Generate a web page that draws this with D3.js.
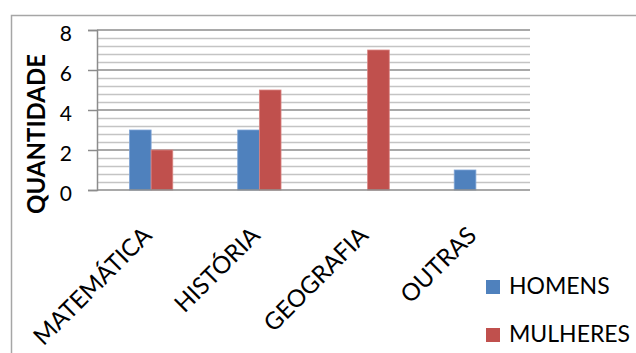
<!DOCTYPE html>
<html>
<head>
<meta charset="utf-8">
<script src="https://cdn.jsdelivr.net/npm/d3@7"></script>
<style>
  html, body { margin: 0; padding: 0; background: #fff; }
  svg { display: block; }
  text { font-family: Lato, "Open Sans", sans-serif; fill: #000; }
</style>
</head>
<body>
<svg id="chart" width="636" height="353"></svg>
<script>
const categories = ["MATEMÁTICA", "HISTÓRIA", "GEOGRAFIA", "OUTRAS"];
const seriesNames = ["HOMENS", "MULHERES"];
const homens = [3, 3, 0, 1];
const mulheres = [2, 5, 7, 0];
const yTicks = [0, 2, 4, 6, 8];
const yTitle = "QUANTIDADE";
const colors = ["#4F81BD", "#C0504D"];

const svg = d3.select("#chart");
const W = 636, H = 353;
const plot = { left: 97, right: 530, top: 30, bottom: 190 };

// outer border (chart area)
svg.append("rect")
  .attr("x", 11.5).attr("y", 15.5)
  .attr("width", W + 10).attr("height", H + 10)
  .attr("fill", "#fff").attr("stroke", "#a6a6a6").attr("stroke-width", 1.5);

const x0 = d3.scaleBand().domain(categories)
  .range([plot.left, plot.right]).paddingInner(0.6).paddingOuter(0.3);
const x1 = d3.scaleBand().domain(seriesNames).range([0, x0.bandwidth()]);
const y = d3.scaleLinear().domain([0, 8]).range([plot.bottom, plot.top]);

// minor gridlines every 0.4
const minor = d3.range(0, 8.0001, 0.4).filter(v => Math.abs(v / 2 - Math.round(v / 2)) > 1e-6);
svg.append("g").selectAll("line").data(minor).join("line")
  .attr("x1", plot.left).attr("x2", plot.right)
  .attr("y1", d => Math.round(y(d)) + 0.5).attr("y2", d => Math.round(y(d)) + 0.5)
  .attr("stroke", "#c4c4c4").attr("stroke-width", 1.5);

// major gridlines + ticks via axis
const yAxis = d3.axisLeft(y).tickValues(yTicks).tickSize(9).tickPadding(16).tickFormat(d3.format("d"));
const gy = svg.append("g").attr("transform", `translate(${plot.left},0)`).call(yAxis);
gy.select(".domain").attr("stroke", "#8c8c8c").attr("stroke-width", 1.5);
gy.selectAll(".tick line").attr("stroke", "#8c8c8c").attr("stroke-width", 1.5);
gy.selectAll(".tick text").attr("font-size", 21).attr("dy", "0.5em")
  .style("font-family", "Lato, sans-serif");
svg.append("g").selectAll("line").data(yTicks.filter(d => d > 0)).join("line")
  .attr("x1", plot.left).attr("x2", plot.right)
  .attr("y1", d => y(d)).attr("y2", d => y(d))
  .attr("stroke", "#8c8c8c").attr("stroke-width", 1.5);

// bars
const data = categories.map((c, i) => ({ cat: c, vals: [homens[i], mulheres[i]] }));
const groups = svg.append("g").selectAll("g").data(data).join("g")
  .attr("transform", d => `translate(${x0(d.cat)},0)`);
groups.selectAll("rect").data(d => d.vals.map((v, j) => ({ v, j })).filter(e => e.v > 0)).join("rect")
  .attr("x", e => x1(seriesNames[e.j]))
  .attr("y", e => y(e.v))
  .attr("width", x1.bandwidth())
  .attr("height", e => y(0) - y(e.v))
  .attr("fill", e => colors[e.j])
  .attr("stroke", e => e.j === 0 ? "#7ea4d6" : "#d98583").attr("stroke-width", 0.8);

// x axis line
svg.append("line").attr("x1", plot.left).attr("x2", plot.right)
  .attr("y1", y(0)).attr("y2", y(0)).attr("stroke", "#8c8c8c").attr("stroke-width", 1.5);

// x labels
svg.append("g").selectAll("text").data(categories).join("text")
  .attr("transform", d => `translate(${x0(d) + x0.bandwidth() / 2 + 2},237) rotate(-45)`)
  .attr("text-anchor", "end")
  .attr("font-size", 24)
  .text(d => d);

// y title
svg.append("text")
  .attr("transform", `translate(45,134) rotate(-90)`)
  .attr("text-anchor", "middle")
  .attr("font-size", 24).attr("font-weight", "bold")
  .text(yTitle);

// legend
const leg = svg.append("g").selectAll("g").data(seriesNames).join("g")
  .attr("transform", (d, i) => `translate(486,${280 + i * 48})`);
leg.append("rect").attr("width", 14).attr("height", 14).attr("fill", (d, i) => colors[i]);
leg.append("text").attr("x", 23).attr("y", 14).attr("font-size", 23).text(d => d);
</script>
</body>
</html>
